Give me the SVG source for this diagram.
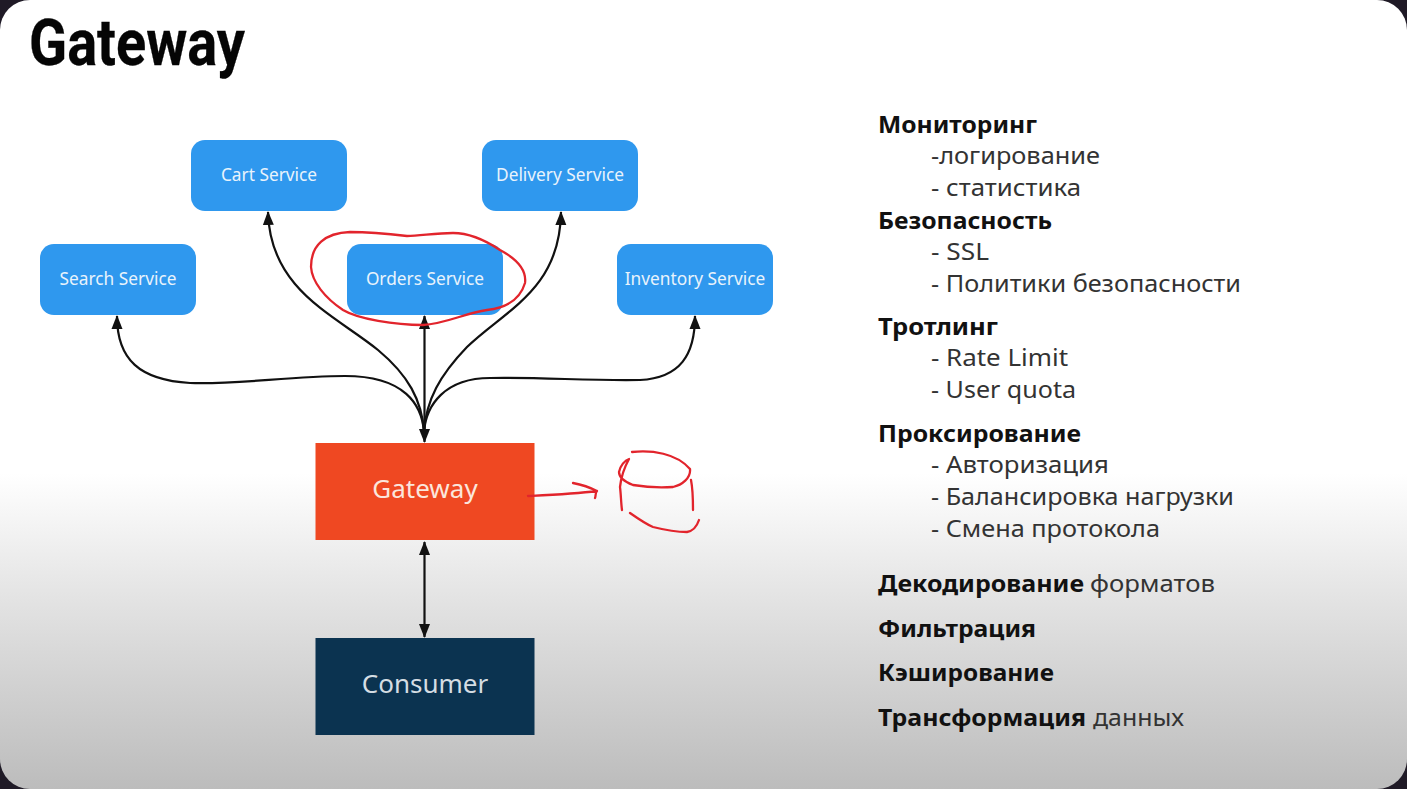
<svg xmlns="http://www.w3.org/2000/svg" width="1407" height="789" viewBox="0 0 1407 789">
<style>
.svc{fill:#2f98ee;rx:14px;ry:14px}
.svct{font-family:"Noto Sans","Open Sans",sans-serif;font-size:17.300px;fill:#e8f3fc;text-anchor:middle}
.big{font-family:"Noto Sans","Open Sans",sans-serif;font-size:26px;text-anchor:middle}
.c{fill:none;stroke:#111;stroke-width:2.200}
.r{fill:none;stroke:#e2242c;stroke-width:2.300;stroke-linecap:round;stroke-linejoin:round}
.h{font-family:"Noto Sans","Open Sans",sans-serif;font-size:23px;font-weight:700;fill:#111}
.t{font-family:"Noto Sans","Open Sans",sans-serif;font-size:23px;fill:#333}
</style>
<defs>
<linearGradient id="bg" x1="0" y1="0" x2="0" y2="1">
<stop offset="0" stop-color="#fff"/><stop offset="0.6" stop-color="#fff"/><stop offset="0.76" stop-color="#e3e3e3"/><stop offset="1" stop-color="#bcbcbc"/>
</linearGradient>
<marker id="a" viewBox="0 0 14 12" refX="13" refY="6" markerWidth="14" markerHeight="12" markerUnits="userSpaceOnUse" orient="auto-start-reverse"><path d="M0 0.500L14 6L0 11.500Z" fill="#111"/></marker>
</defs>
<rect width="1407" height="789" fill="#1f1a26"/>
<rect width="1407" height="789" rx="30" ry="30" fill="url(#bg)"/>
<text x="29" y="65" font-family="Roboto,sans-serif" font-weight="700" font-size="64" fill="#050505" stroke="#050505" stroke-width="0.300" textLength="216" lengthAdjust="spacingAndGlyphs">Gateway</text>
<g id="connectors">
<path class="c" marker-end="url(#a)" d="M424 432C422 400 408 375 378 350C335 315 270 290 268 212"/>
<path class="c" marker-end="url(#a)" d="M424 432C426 400 440 375 467 347C505 310 560 290 561 212"/>
<path class="c" marker-end="url(#a)" d="M424 432C422 405 405 376 345 376C290 376 235 385 190 383C140 380 117 360 117 316"/>
<path class="c" marker-end="url(#a)" d="M424 432C426 405 445 378 490 378C540 377 590 381 640 380C680 378 695 355 695 316"/>
<path class="c" marker-start="url(#a)" marker-end="url(#a)" d="M424.500 316V442"/>
<path class="c" marker-start="url(#a)" marker-end="url(#a)" d="M424.500 542V637"/>
</g>
<g id="cart"><rect class="svc" x="191" y="140" width="156" height="71"/><text class="svct" x="269" y="180.500">Cart Service</text></g>
<g id="delivery"><rect class="svc" x="482" y="140" width="156" height="71"/><text class="svct" x="560" y="180.500">Delivery Service</text></g>
<g id="search"><rect class="svc" x="40" y="244" width="156" height="71"/><text class="svct" x="118" y="284.500">Search Service</text></g>
<g id="orders"><rect class="svc" x="347" y="244" width="156" height="71"/><text class="svct" x="425" y="284.500">Orders Service</text></g>
<g id="inventory"><rect class="svc" x="617" y="244" width="156" height="71"/><text class="svct" x="695" y="284.500">Inventory Service</text></g>
<g id="gateway"><rect x="315.500" y="443" width="219" height="97" fill="#ef4822"/><text class="big" x="425" y="498" fill="#fbe6dc">Gateway</text></g>
<g id="consumer"><rect x="315.500" y="638" width="219" height="97" fill="#0b3350"/><text class="big" x="425" y="693" fill="#d5dde3">Consumer</text></g>
<g id="annotations">
<path class="r" d="M407 236C390 234 370 232 350 232C325 233 311 245 311 267C312 282 325 298 343 310C358 319 395 325 423 325C445 324 465 313 487 310C505 308 520 300 525 283C527 268 515 258 500 250C485 240 470 233 453 233C435 233 420 236 407 236"/>
<path class="r" d="M528 496C550 495 575 494 597 491M573 483C583 485 591 488 597 491C595 493 596 496 595 498"/>
<path class="r" d="M632 452C652 450 676 453 690 469C691 478 682 485 673 487C660 488 645 487 633 485C625 482 619 478 619 472C620 466 625 460 629 459C624 468 621 478 620 487C621 495 621 503 622 510M691 480C693 490 693 500 693 510M630 513C640 520 648 525 653 527C665 530 677 532 687 532C693 531 697 526 699 520"/>
</g>
<g id="list">
<text class="h" x="878" y="133" textLength="159" lengthAdjust="spacingAndGlyphs">Мониторинг</text>
<text class="t" x="931" y="164" textLength="169" lengthAdjust="spacingAndGlyphs">-логирование</text>
<text class="t" x="931" y="196" textLength="150" lengthAdjust="spacingAndGlyphs">- статистика</text>
<text class="h" x="878" y="229" textLength="174" lengthAdjust="spacingAndGlyphs">Безопасность</text>
<text class="t" x="931" y="260" textLength="58" lengthAdjust="spacingAndGlyphs">- SSL</text>
<text class="t" x="931" y="292" textLength="310" lengthAdjust="spacingAndGlyphs">- Политики безопасности</text>
<text class="h" x="878" y="335" textLength="120" lengthAdjust="spacingAndGlyphs">Тротлинг</text>
<text class="t" x="931" y="366" textLength="137" lengthAdjust="spacingAndGlyphs">- Rate Limit</text>
<text class="t" x="931" y="398" textLength="145" lengthAdjust="spacingAndGlyphs">- User quota</text>
<text class="h" x="878" y="442" textLength="203" lengthAdjust="spacingAndGlyphs">Проксирование</text>
<text class="t" x="931" y="473" textLength="178" lengthAdjust="spacingAndGlyphs">- Авторизация</text>
<text class="t" x="931" y="505" textLength="303" lengthAdjust="spacingAndGlyphs">- Балансировка нагрузки</text>
<text class="t" x="931" y="537" textLength="229" lengthAdjust="spacingAndGlyphs">- Смена протокола</text>
<text class="h" x="878" y="592" textLength="206" lengthAdjust="spacingAndGlyphs">Декодирование</text>
<text class="t" x="1090" y="592" textLength="125" lengthAdjust="spacingAndGlyphs">форматов</text>
<text class="h" x="878" y="637" textLength="158" lengthAdjust="spacingAndGlyphs">Фильтрация</text>
<text class="h" x="878" y="681" textLength="176" lengthAdjust="spacingAndGlyphs">Кэширование</text>
<text class="h" x="878" y="726" textLength="208" lengthAdjust="spacingAndGlyphs">Трансформация</text>
<text class="t" x="1093" y="726" textLength="91" lengthAdjust="spacingAndGlyphs">данных</text>
</g>
</svg>
